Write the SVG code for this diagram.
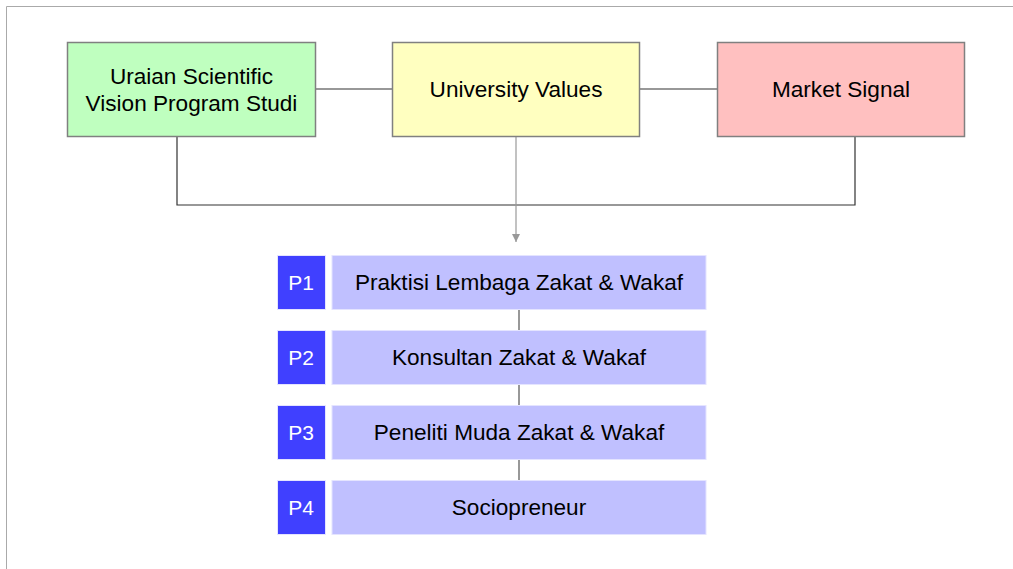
<svg xmlns="http://www.w3.org/2000/svg" width="1013" height="569" viewBox="0 0 1013 569">
<style>
.t{font-family:"Liberation Sans",Arial,sans-serif;font-size:22.6px;fill:#000;text-anchor:middle}
.w{fill:#fff;font-size:21px}
.box{stroke:#808080;stroke-width:1.5}
.item{fill:#c0c0ff;stroke:#e4e4ff;stroke-width:1}
.tag{fill:#4040ff;stroke:#e4e4ff;stroke-width:1}
.c{fill:none;stroke:#333;stroke-width:1.2}
</style>
<defs>
<marker id="ah" viewBox="0 0 10 10" refX="10" refY="5" markerWidth="8" markerHeight="8" markerUnits="userSpaceOnUse" orient="auto">
<path d="M0,0 L10,5 L0,10 z" fill="#999"/>
</marker>
</defs>
<rect width="1013" height="569" fill="#fff"/>
<path d="M6.5,569 V6.5 H1013" fill="none" stroke="#aaa" stroke-width="1"/>
<g id="connectors">
<path class="c" d="M316,89 H392"/>
<path class="c" d="M640,89 H717"/>
<path class="c" d="M177,136 V205 H855 V136"/>
<path d="M516,137 V242" fill="none" stroke="#999" stroke-width="1.2" marker-end="url(#ah)"/>
<path d="M519,309 V330 M519,384 V405 M519,459 V480" fill="none" stroke="#777" stroke-width="1.5"/>
</g>
<g id="n-scientific">
<rect class="box" x="67.5" y="42.5" width="248" height="94" fill="#bfffbf"/>
<text class="t" x="191.5" y="83.5">Uraian Scientific</text>
<text class="t" x="191.5" y="110.5">Vision Program Studi</text>
</g>
<g id="n-values">
<rect class="box" x="392.5" y="42.5" width="247" height="94" fill="#ffffc0"/>
<text class="t" x="516" y="97">University Values</text>
</g>
<g id="n-market">
<rect class="box" x="717.5" y="42.5" width="247" height="94" fill="#ffc0c0"/>
<text class="t" x="841" y="97">Market Signal</text>
</g>
<g id="p1">
<rect class="tag" x="277.5" y="255.5" width="48" height="54"/>
<text class="t w" x="301" y="290">P1</text>
<rect class="item" x="332" y="255.5" width="374" height="54"/>
<text class="t" x="519" y="290">Praktisi Lembaga Zakat &amp; Wakaf</text>
</g>
<g id="p2">
<rect class="tag" x="277.5" y="330.5" width="48" height="54"/>
<text class="t w" x="301" y="365">P2</text>
<rect class="item" x="332" y="330.5" width="374" height="54"/>
<text class="t" x="519" y="365">Konsultan Zakat &amp; Wakaf</text>
</g>
<g id="p3">
<rect class="tag" x="277.5" y="405.5" width="48" height="54"/>
<text class="t w" x="301" y="440">P3</text>
<rect class="item" x="332" y="405.5" width="374" height="54"/>
<text class="t" x="519" y="440">Peneliti Muda Zakat &amp; Wakaf</text>
</g>
<g id="p4">
<rect class="tag" x="277.5" y="480.5" width="48" height="54"/>
<text class="t w" x="301" y="515">P4</text>
<rect class="item" x="332" y="480.5" width="374" height="54"/>
<text class="t" x="519" y="515">Sociopreneur</text>
</g>
</svg>
